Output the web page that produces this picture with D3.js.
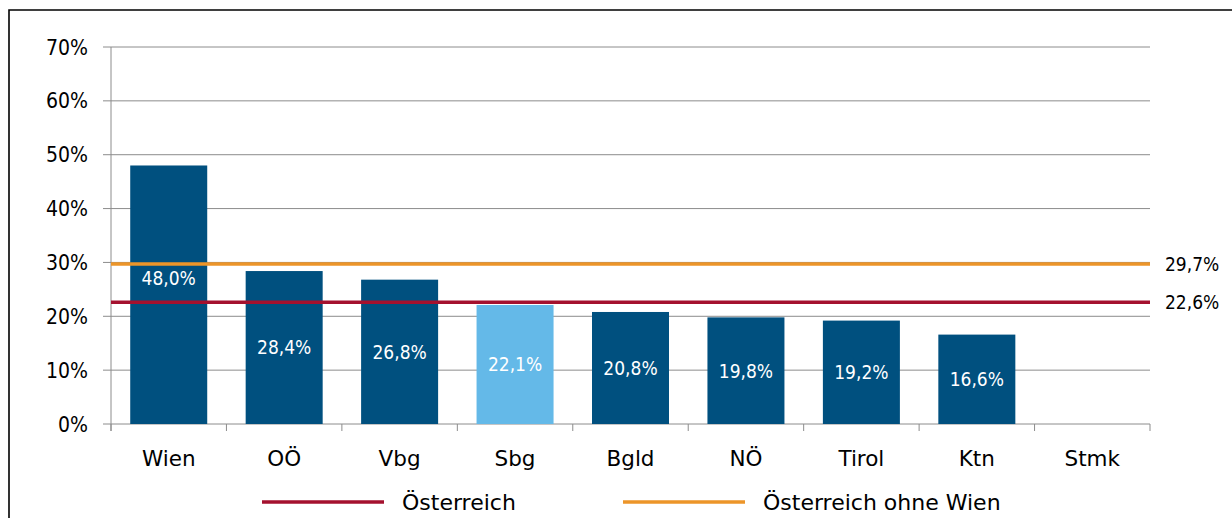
<!DOCTYPE html>
<html>
<head>
<meta charset="utf-8">
<script src="https://cdn.jsdelivr.net/npm/d3@7"></script>
<style>
  body { margin: 0; background: #fff; }
  text { font-family: "DejaVu Sans Condensed", "DejaVu Sans", sans-serif; }
  .wide { font-family: "DejaVu Sans", sans-serif; }
</style>
</head>
<body>
<svg width="1232" height="518"></svg>
<script>
// Anteil je Bundesland, dazu zwei Referenzlinien
var regions = ["Wien", "OÖ", "Vbg", "Sbg", "Bgld", "NÖ", "Tirol", "Ktn", "Stmk"];
var shares = [48.0, 28.4, 26.8, 22.1, 20.8, 19.8, 19.2, 16.6, null];
var yTicks = [0, 10, 20, 30, 40, 50, 60, 70];
var refNames = ["Österreich", "Österreich ohne Wien"];
var refValues = [22.6, 29.7];

var svg = d3.select("svg"),
    width = +svg.attr("width"),
    height = +svg.attr("height");

var margin = {left: 111, right: 82, top: 47, bottom: 94};
var x0 = margin.left, x1 = width - margin.right;
var y0 = height - margin.bottom, y1 = margin.top;

var fmt = function(v) { return d3.format(".1f")(v).replace(".", ",") + "%"; };
var dark = "#00507f", light = "#64b9e8";
var refColors = ["#a4112e", "#ec9529"];

// rahmen
svg.append("path")
    .attr("d", "M9,520 V10 H1240")
    .attr("fill", "none")
    .attr("stroke", "#000")
    .attr("stroke-width", 1.6);

var x = d3.scaleBand().domain(regions).range([x0, x1]).paddingInner(0.333).paddingOuter(0.1665);
var y = d3.scaleLinear().domain([0, 70]).range([y0, y1]);

// gridlines
svg.append("g")
    .selectAll("line")
    .data(yTicks)
    .enter().append("line")
    .attr("x1", x0 - 8)
    .attr("x2", x1)
    .attr("y1", function(d) { return y(d); })
    .attr("y2", function(d) { return y(d); })
    .attr("stroke", "#8c8c8c")
    .attr("stroke-width", 1);

svg.append("g")
    .selectAll("text")
    .data(yTicks)
    .enter().append("text")
    .attr("x", x0 - 23)
    .attr("y", function(d) { return y(d); })
    .attr("dy", "0.36em")
    .attr("text-anchor", "end")
    .attr("font-size", 21)
    .attr("fill", "#000")
    .text(function(d) { return d + "%"; });

// y axis line
svg.append("line")
    .attr("x1", x0).attr("x2", x0)
    .attr("y1", y1).attr("y2", y0 + 7)
    .attr("stroke", "#8c8c8c");

// x ticks between categories
var step = x.step();
var bounds = d3.range(regions.length + 1).map(function(i) { return x0 + i * step; });
svg.append("g")
    .selectAll("line")
    .data(bounds)
    .enter().append("line")
    .attr("x1", function(d) { return d; })
    .attr("x2", function(d) { return d; })
    .attr("y1", y0)
    .attr("y2", y0 + 7)
    .attr("stroke", "#8c8c8c");

svg.append("g")
    .selectAll("text")
    .data(regions)
    .enter().append("text")
    .attr("class", "wide")
    .attr("x", function(d) { return x(d) + x.bandwidth() / 2; })
    .attr("y", y0 + 42)
    .attr("text-anchor", "middle")
    .attr("font-size", 21.5)
    .attr("fill", "#000")
    .text(function(d) { return d; });

// bars
var barData = regions.map(function(r, i) { return {region: r, value: shares[i]}; })
    .filter(function(d) { return d.value != null; });

svg.append("g")
    .selectAll("rect")
    .data(barData)
    .enter().append("rect")
    .attr("x", function(d) { return x(d.region); })
    .attr("width", x.bandwidth())
    .attr("y", function(d) { return y(d.value); })
    .attr("height", function(d) { return y0 - y(d.value); })
    .attr("fill", function(d) { return d.region == "Sbg" ? light : dark; });

// reference lines
svg.append("g")
    .selectAll("line")
    .data(refValues)
    .enter().append("line")
    .attr("x1", x0)
    .attr("x2", x1)
    .attr("y1", function(d) { return y(d); })
    .attr("y2", function(d) { return y(d); })
    .attr("stroke", function(d, i) { return refColors[i]; })
    .attr("stroke-width", 3.5);

svg.append("g")
    .selectAll("text")
    .data(refValues)
    .enter().append("text")
    .attr("x", x1 + 15)
    .attr("y", function(d) { return y(d); })
    .attr("dy", "0.36em")
    .attr("font-size", 19)
    .attr("fill", "#000")
    .text(fmt);

// value labels (Wien label sits just under the orange line)
svg.append("g")
    .selectAll("text")
    .data(barData)
    .enter().append("text")
    .attr("x", function(d) { return x(d.region) + x.bandwidth() / 2; })
    .attr("y", function(d, i) {
        if (i == 0) return y(refValues[1]) + 14;
        return (y(d.value) + y0) / 2;
    })
    .attr("dy", "0.36em")
    .attr("text-anchor", "middle")
    .attr("font-size", 19)
    .attr("fill", "#fff")
    .text(function(d) { return fmt(d.value); });

// legend
var legX = [262, 623];
var leg = svg.append("g")
    .selectAll("g")
    .data(refNames)
    .enter().append("g")
    .attr("transform", function(d, i) { return "translate(" + legX[i] + "," + 502 + ")"; });

leg.append("line")
    .attr("x1", 0).attr("x2", 122)
    .attr("stroke", function(d, i) { return refColors[i]; })
    .attr("stroke-width", 3.5);

leg.append("text")
    .attr("class", "wide")
    .attr("x", 140)
    .attr("dy", "0.36em")
    .attr("font-size", 22)
    .attr("fill", "#000")
    .text(function(d) { return d; });
</script>
</body>
</html>
